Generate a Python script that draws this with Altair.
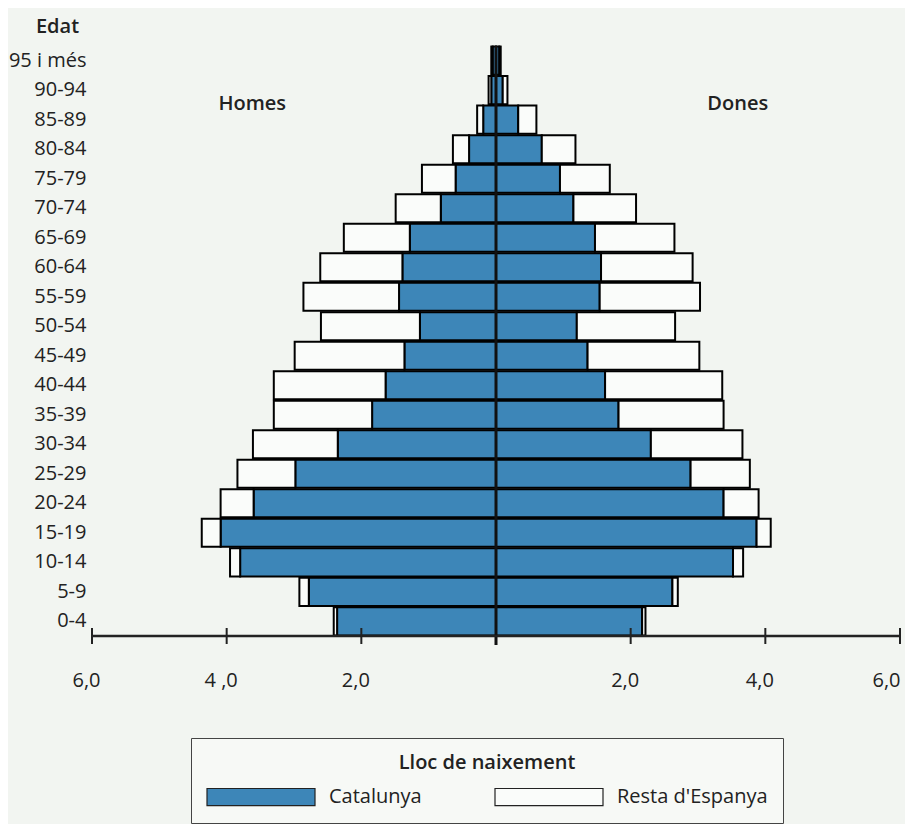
import altair as alt
import pandas as pd

# Age groups, top to bottom
ages = ["95 i més", "90-94", "85-89", "80-84", "75-79", "70-74", "65-69", "60-64",
        "55-59", "50-54", "45-49", "40-44", "35-39", "30-34", "25-29", "20-24",
        "15-19", "10-14", "5-9", "0-4"]

# Homes (men), % of population
men_cat = [0.05, 0.07, 0.19, 0.40, 0.60, 0.82, 1.28, 1.39, 1.44, 1.13, 1.36, 1.64,
           1.84, 2.35, 2.98, 3.60, 4.09, 3.80, 2.78, 2.36]
men_resta = [0.02, 0.04, 0.09, 0.24, 0.50, 0.67, 0.98, 1.22, 1.42, 1.47, 1.63, 1.66,
             1.46, 1.26, 0.86, 0.49, 0.28, 0.15, 0.14, 0.05]
# Dones (women)
women_cat = [0.05, 0.10, 0.33, 0.68, 0.95, 1.15, 1.47, 1.56, 1.54, 1.20, 1.36, 1.62,
             1.82, 2.30, 2.89, 3.38, 3.87, 3.52, 2.62, 2.17]
women_resta = [0.02, 0.07, 0.27, 0.50, 0.74, 0.93, 1.18, 1.36, 1.49, 1.46, 1.66, 1.74,
               1.56, 1.36, 0.88, 0.52, 0.21, 0.15, 0.08, 0.05]

origins = ["Catalunya", "Resta d'Espanya"]
origin_colors = ["#3d86b8", "#fafcfa"]

tick_values = [-6, -4, -2, 2, 4, 6]
tick_labels = ["6,0", "4 ,0", "2,0", "2,0", "4,0", "6,0"]

side_labels = ["Homes", "Dones"]
side_x = [-3.62, 3.59]

FONT = "Open Sans"
W, H = 808, 590

rows = []
for i, a in enumerate(ages):
    rows.append({"edat": a, "origen": origins[0], "ord": 0, "v": -men_cat[i]})
    rows.append({"edat": a, "origen": origins[1], "ord": 1, "v": -men_resta[i]})
    rows.append({"edat": a, "origen": origins[0], "ord": 0, "v": women_cat[i]})
    rows.append({"edat": a, "origen": origins[1], "ord": 1, "v": women_resta[i]})
df = pd.DataFrame(rows)

label_expr = " : ".join(
    f"datum.value == {v} ? '{t}'" for v, t in zip(tick_values, tick_labels)
) + " : ''"

xscale = alt.Scale(domain=[-6, 6], nice=False, zero=False)
yscale = alt.Scale(domain=ages, paddingInner=0.05, paddingOuter=0.02)

# wide legend swatch: unit size 18px, path spans 0..108 px to the right
legend_path = "M-1,-0.95H11V0.95H-1Z"

bars = alt.Chart(df).mark_bar(stroke="black", strokeWidth=2).encode(
    x=alt.X("v:Q", scale=xscale, stack="zero",
            axis=alt.Axis(values=tick_values, labelExpr=label_expr, domain=False,
                          ticks=False, grid=False, labelPadding=34,
                          labelOffset={"condition": {"test": "datum.value == 6", "value": -14},
                                       "value": -6},
                          labelFlush=False,
                          labelFont=FONT, labelFontSize=20, labelColor="#222",
                          title=None)),
    y=alt.Y("edat:N", scale=yscale, sort=ages,
            axis=alt.Axis(domain=False, ticks=False, labelPadding=6,
                          labelFont=FONT, labelFontSize=20, labelColor="#222",
                          title="Edat", titleAngle=0, titleX=-35, titleY=-14,
                          titleAlign="center", titleBaseline="alphabetic",
                          titleFont=FONT, titleFontSize=20, titleFontWeight=600,
                          titleColor="#222")),
    color=alt.Color("origen:N", scale=alt.Scale(domain=origins, range=origin_colors),
                    legend=alt.Legend(
                        title="Lloc de naixement", orient="none", legendX=99, legendY=692,
                        direction="horizontal", columns=2, columnPadding=70,
                        symbolType=legend_path, symbolSize=18 * 18,
                        symbolStrokeColor="#222", symbolStrokeWidth=1.2,
                        labelFont=FONT, labelFontSize=20, labelColor="#222",
                        labelOffset=103, titleFont=FONT, titleFontSize=20,
                        titleFontWeight=600, titleColor="#222", titleAnchor="middle",
                        titlePadding=14, padding=15, strokeColor="#444",
                        fillColor="#f7f9f6")),
    order=alt.Order("ord:Q"),
)

center = alt.Chart(pd.DataFrame({"x": [0]})).mark_rule(
    color="#111", strokeWidth=3).encode(
    x=alt.X("x:Q", scale=xscale), y=alt.value(0), y2=alt.value(H + 9))

axis_line = alt.Chart(pd.DataFrame({"a": [-6], "b": [6]})).mark_rule(
    color="#222", strokeWidth=2.5).encode(
    x=alt.X("a:Q", scale=xscale), x2="b:Q", y=alt.value(H))

ticks = alt.Chart(pd.DataFrame({"t": tick_values})).mark_rule(
    color="#222", strokeWidth=2).encode(
    x=alt.X("t:Q", scale=xscale), y=alt.value(H - 8), y2=alt.value(H + 8))

sides = alt.Chart(pd.DataFrame({"lab": side_labels, "x": side_x})).mark_text(
    font=FONT, fontSize=20, fontWeight=600, color="#222", dy=14).encode(
    x=alt.X("x:Q", scale=xscale), y=alt.datum("90-94"), text="lab:N")

chart = alt.layer(bars, center, axis_line, ticks, sides).properties(
    width=W, height=H,
    autosize=alt.AutoSizeParams(type="none"),
    padding={"left": 84, "top": 38, "right": 5, "bottom": 200},
    background="#f2f5f1",
).configure_view(stroke=None)

chart.save("out.html", embed_options={"renderer": "svg", "actions": False})
